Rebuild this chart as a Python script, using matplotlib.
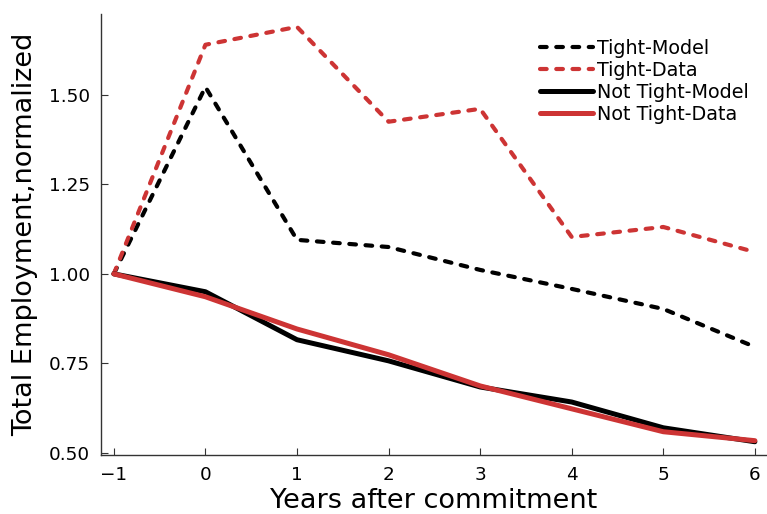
import matplotlib
matplotlib.use("Agg")
import matplotlib.pyplot as plt

# years relative to commitment
years = [-1, 0, 1, 2, 3, 4, 5, 6]

# employment normalized to year -1
tight_model = [1.00, 1.522, 1.095, 1.075, 1.011, 0.958, 0.902, 0.796]
tight_data = [1.00, 1.640, 1.690, 1.425, 1.461, 1.103, 1.131, 1.061]
not_tight_model = [1.00, 0.950, 0.816, 0.757, 0.684, 0.642, 0.570, 0.531]
not_tight_data = [1.00, 0.936, 0.846, 0.774, 0.687, 0.623, 0.559, 0.534]

red = "#cd3434"
lw = 3.0
dash = (0, (1.6, 2.3))

fig = plt.figure(figsize=(7.67, 5.14), dpi=100)
ax = fig.add_axes([0.1317, 0.1148, 0.868, 0.858])

ax.plot(years, tight_model, color="black", lw=lw, linestyle=dash,
        dash_capstyle="round", label="Tight-Model")
ax.plot(years, tight_data, color=red, lw=lw, linestyle=dash,
        dash_capstyle="round", label="Tight-Data")
ax.plot(years, not_tight_model, color="black", lw=lw + 0.6,
        solid_capstyle="round", label="Not Tight-Model")
ax.plot(years, not_tight_data, color=red, lw=lw + 0.6,
        solid_capstyle="round", label="Not Tight-Data")

ax.set_xlim(-1.14, 6.13)
ax.set_ylim(0.494, 1.726)
ax.set_xticks(years)
ax.set_yticks([0.50, 0.75, 1.00, 1.25, 1.50])
ax.set_yticklabels(["0.50", "0.75", "1.00", "1.25", "1.50"])
ax.xaxis.set_major_formatter(matplotlib.ticker.FuncFormatter(
    lambda v, p: f"\u2212{abs(int(v))}" if v < 0 else f"{int(v)}"))

for side in ["top", "right"]:
    ax.spines[side].set_visible(False)
for side in ["left", "bottom"]:
    ax.spines[side].set_color("#333333")
    ax.spines[side].set_linewidth(1.0)
ax.tick_params(direction="in", length=5, width=0.8, labelsize=13.2,
               color="#333333", pad=8)

ax.set_xlabel("Years after commitment", fontsize=19.5, labelpad=2.5)
ax.set_ylabel("Total Employment,normalized", fontsize=19.5, labelpad=8)

fig.legend(loc="upper left", bbox_to_anchor=(540 / 767, 1 - 39 / 514),
           frameon=False, fontsize=13.8, handlelength=2.75,
           handletextpad=0.2, labelspacing=0.16, borderpad=0,
           borderaxespad=0)

fig.savefig("out.png", dpi=100)
